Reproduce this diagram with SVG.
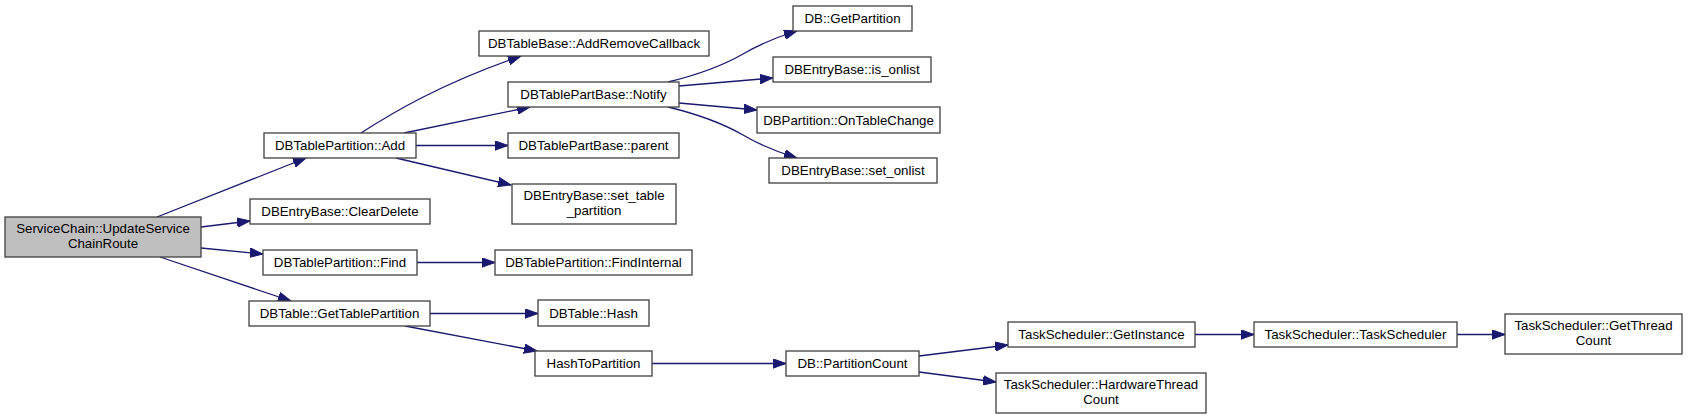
<svg xmlns="http://www.w3.org/2000/svg" width="1688" height="419" viewBox="0 0 1688 419">
<style>
.n rect{fill:#ffffff;stroke:#404040;stroke-width:1.3}
.n.root rect{fill:#bfbfbf}
.n text{font-family:"Liberation Sans",Arial,sans-serif;font-size:13.3px;fill:#000;text-anchor:middle}
.e path{fill:none;stroke:#191970;stroke-width:1.3;marker-end:url(#ah)}
</style>
<defs>
<marker id="ah" markerUnits="userSpaceOnUse" markerWidth="14" markerHeight="10" refX="13" refY="5" orient="auto">
<path d="M0,0.3 L13,5 L0,9.7 Z" fill="#191970" stroke="#191970" stroke-width="1"/>
</marker>
</defs>
<rect width="1688" height="419" fill="#ffffff"/>
<g id="edges" class="e">
<path d="M157,217 L306,158"/>
<path d="M201,227 L250,221"/>
<path d="M201,248 L263,254"/>
<path d="M160,257 L291,301"/>
<path d="M361,133 C392,113 440,84 521,56"/>
<path d="M404,133 L530,107"/>
<path d="M416,145.5 L508,145.5"/>
<path d="M396,158 L511,185"/>
<path d="M668,82 C697,75 722,66 743,54 C760,44 777,37 797,31"/>
<path d="M679,86 L773,78"/>
<path d="M679,103 L757,110"/>
<path d="M668,107 C697,114 722,123 743,135 C760,145 777,152 797,158"/>
<path d="M417,262.5 L495,262.5"/>
<path d="M430,313.5 L538,313.5"/>
<path d="M405,326 L537,351"/>
<path d="M652,363.5 L786,363.5"/>
<path d="M919,356 L1008,345"/>
<path d="M919,372 L996,382"/>
<path d="M1195,334.5 L1254,334.5"/>
<path d="M1457,334.5 L1505,334.5"/>
</g>
<g id="n_root" class="n root"><rect x="5" y="217" width="196" height="40"/><text x="103" y="233">ServiceChain::UpdateService</text><text x="103" y="248">ChainRoute</text></g>
<g id="n_add" class="n"><rect x="264" y="133" width="152" height="25"/><text x="340" y="150">DBTablePartition::Add</text></g>
<g id="n_cleardelete" class="n"><rect x="250" y="199" width="180" height="25"/><text x="340" y="216">DBEntryBase::ClearDelete</text></g>
<g id="n_find" class="n"><rect x="263" y="250" width="154" height="25"/><text x="340" y="267">DBTablePartition::Find</text></g>
<g id="n_gettablepartition" class="n"><rect x="249" y="301" width="181" height="25"/><text x="339.5" y="318">DBTable::GetTablePartition</text></g>
<g id="n_addremovecallback" class="n"><rect x="479" y="31" width="230" height="25"/><text x="594" y="48">DBTableBase::AddRemoveCallback</text></g>
<g id="n_notify" class="n"><rect x="508" y="82" width="171" height="25"/><text x="593.5" y="99">DBTablePartBase::Notify</text></g>
<g id="n_parent" class="n"><rect x="508" y="133" width="171" height="25"/><text x="593.5" y="150">DBTablePartBase::parent</text></g>
<g id="n_settablepartition" class="n"><rect x="512" y="184" width="164" height="40"/><text x="594" y="200">DBEntryBase::set_table</text><text x="594" y="215">_partition</text></g>
<g id="n_getpartition" class="n"><rect x="793" y="6" width="119" height="25"/><text x="852.5" y="23">DB::GetPartition</text></g>
<g id="n_isonlist" class="n"><rect x="773" y="57" width="158" height="25"/><text x="852" y="74">DBEntryBase::is_onlist</text></g>
<g id="n_ontablechange" class="n"><rect x="757" y="107" width="183" height="26"/><text x="848.5" y="124.5">DBPartition::OnTableChange</text></g>
<g id="n_setonlist" class="n"><rect x="769" y="158" width="168" height="25"/><text x="853" y="175">DBEntryBase::set_onlist</text></g>
<g id="n_findinternal" class="n"><rect x="495" y="250" width="197" height="25"/><text x="593.5" y="267">DBTablePartition::FindInternal</text></g>
<g id="n_hash" class="n"><rect x="538" y="300" width="111" height="26"/><text x="593.5" y="317.5">DBTable::Hash</text></g>
<g id="n_hashtopartition" class="n"><rect x="535" y="351" width="117" height="25"/><text x="593.5" y="368">HashToPartition</text></g>
<g id="n_partitioncount" class="n"><rect x="786" y="351" width="133" height="25"/><text x="852.5" y="368">DB::PartitionCount</text></g>
<g id="n_getinstance" class="n"><rect x="1008" y="322" width="187" height="25"/><text x="1101.5" y="339">TaskScheduler::GetInstance</text></g>
<g id="n_hardwarethreadcount" class="n"><rect x="996" y="373" width="210" height="40"/><text x="1101" y="389">TaskScheduler::HardwareThread</text><text x="1101" y="404">Count</text></g>
<g id="n_taskscheduler" class="n"><rect x="1254" y="322" width="203" height="25"/><text x="1355.5" y="339">TaskScheduler::TaskScheduler</text></g>
<g id="n_getthreadcount" class="n"><rect x="1505" y="314" width="177" height="40"/><text x="1593.5" y="330">TaskScheduler::GetThread</text><text x="1593.5" y="345">Count</text></g>
</svg>
